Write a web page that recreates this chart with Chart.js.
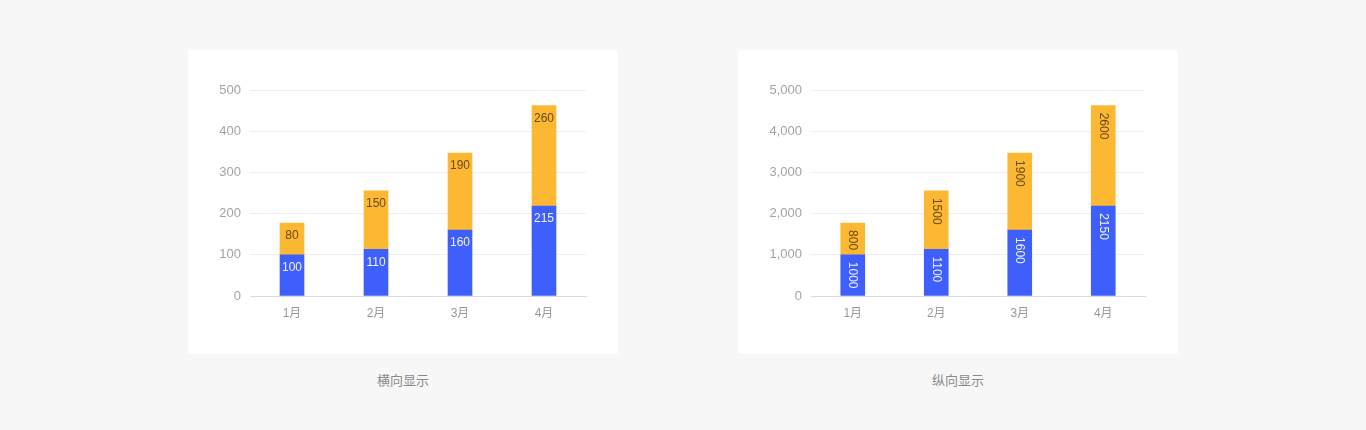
<!DOCTYPE html>
<html lang="zh">
<head>
<meta charset="utf-8">
<title>堆叠柱状图 标签方向</title>
<script src="https://cdn.jsdelivr.net/npm/chart.js@4.4.1/dist/chart.umd.min.js"></script>
<style>
  html, body { margin: 0; padding: 0; }
  body {
    width: 1366px; height: 430px; background: #f7f7f7; position: relative; overflow: hidden;
    font-family: Arial, "Liberation Sans", "Noto Sans CJK SC", sans-serif;
  }
  .card { position: absolute; top: 50px; height: 304px; background: #fff; border-radius: 2px; }
  .card canvas { display: block; }
  .caption { position: absolute; top: 371px; font-size: 13px; color: #8a8a8a; text-align: center; line-height: 20px; }
</style>
</head>
<body>
  <div class="card" style="left:188px;width:430px;"><canvas id="chartH" width="430" height="304"></canvas></div>
  <div class="card" style="left:738px;width:440px;"><canvas id="chartV" width="440" height="304"></canvas></div>
  <div class="caption" style="left:188px;width:430px;">横向显示</div>
  <div class="caption" style="left:738px;width:440px;">纵向显示</div>

<script>
// data
const months = ['1月', '2月', '3月', '4月'];

// 横向显示 (bar heights as drawn, labels as printed)
const hBlue = [100, 113, 160, 218];
const hOrange = [77, 142, 187, 244];
const hBlueLabels = ['100', '110', '160', '215'];
const hOrangeLabels = ['80', '150', '190', '260'];
const hTicks = [0, 100, 200, 300, 400, 500];

// 纵向显示
const vBlue = [1000, 1130, 1600, 2180];
const vOrange = [770, 1420, 1870, 2440];
const vBlueLabels = ['1000', '1100', '1600', '2150'];
const vOrangeLabels = ['800', '1500', '1900', '2600'];
const vTicks = [0, 1000, 2000, 3000, 4000, 5000];

const BLUE = '#3f5ffc';
const ORANGE = '#fdb833';
const FONT = 'Arial, "Liberation Sans", "Noto Sans CJK SC", sans-serif';

// draws the value text inside each segment
function segLabels(labelSets, rotated) {
    return {
        id: 'segLabels',
        afterDatasetsDraw(chart) {
            const ctx = chart.ctx;
            ctx.save();
            ctx.font = '12px ' + FONT;
            chart.data.datasets.forEach((ds, i) => {
                const meta = chart.getDatasetMeta(i);
                ctx.fillStyle = i === 0 ? 'rgba(255,255,255,0.92)' : '#694a12';
                meta.data.forEach((bar, j) => {
                    const txt = labelSets[i][j];
                    if (rotated) {
                        ctx.save();
                        ctx.translate(bar.x, bar.y + 7);
                        ctx.rotate(Math.PI / 2);
                        ctx.textAlign = 'left';
                        ctx.textBaseline = 'middle';
                        ctx.fillText(txt, 0, 0);
                        ctx.restore();
                    } else {
                        ctx.textAlign = 'center';
                        ctx.textBaseline = 'middle';
                        ctx.fillText(txt, bar.x, bar.y + 13);
                    }
                });
            });
            ctx.restore();
        }
    };
}

function makeChart(id, blue, orange, ticks, labelSets, rotated, yWidth, pad) {
    const ctx = document.getElementById(id).getContext('2d');
    return new Chart(ctx, {
        type: 'bar',
        data: {
            labels: months,
            datasets: [
                { data: blue, backgroundColor: BLUE, barThickness: 24 },
                { data: orange, backgroundColor: ORANGE, barThickness: 24 }
            ]
        },
        options: {
            responsive: false,
            animation: false,
            layout: { padding: pad },
            plugins: { legend: { display: false }, tooltip: { enabled: false } },
            scales: {
                x: {
                    stacked: true,
                    grid: { display: false, drawTicks: false },
                    border: { color: '#dcdcdc' },
                    ticks: { color: '#999999', font: { size: 12, family: FONT }, padding: 10 },
                    afterFit: (s) => { s.height = 30; }
                },
                y: {
                    stacked: true,
                    min: ticks[0],
                    max: ticks[ticks.length - 1],
                    ticks: {
                        stepSize: ticks[1] - ticks[0],
                        color: '#a3a3a3',
                        font: { size: 13, family: FONT },
                        padding: 9
                    },
                    grid: { color: '#eeeeee', drawTicks: false },
                    border: { display: false },
                    afterFit: (s) => { s.width = yWidth; }
                }
            }
        },
        plugins: [segLabels(labelSets, rotated)]
    });
}

document.addEventListener('DOMContentLoaded', () => {
    makeChart('chartH', hBlue, hOrange, hTicks, [hBlueLabels, hOrangeLabels], false, 40,
        { top: 40, left: 22, right: 32, bottom: 28 });
    makeChart('chartV', vBlue, vOrange, vTicks, [vBlueLabels, vOrangeLabels], true, 50,
        { top: 40, left: 23, right: 33, bottom: 28 });
});
</script>
</body>
</html>
